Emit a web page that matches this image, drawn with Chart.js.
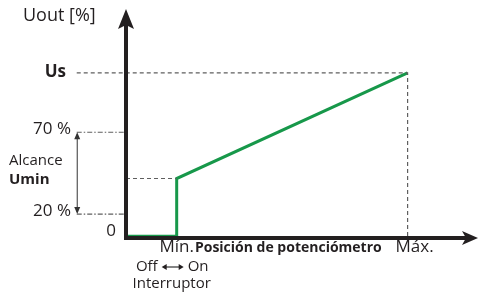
<!DOCTYPE html>
<html>
<head>
<meta charset="utf-8">
<script src="https://cdn.jsdelivr.net/npm/chart.js@4"></script>
<style>
  body { margin: 0; background: #fff; }
  canvas { display: block; }
</style>
</head>
<body>
<canvas id="curve" width="481" height="295"></canvas>
<script>
// schematic values (arbitrary units, Us = 100)
var outputX = [0, 18, 18, 100];
var outputY = [1, 1, 36, 100];
var minPos = 18, maxPos = 100;
var usLevel = 100, stepLevel = 36;
var rangeLabels = ['70 %', '20 %'];
var rangeValues = [64, 14.5];
var leftGuideX = -17.5;

var ink = '#231f20';
var guideGrey = '#5f5f5f';

function pts(xs, ys) {
    return xs.map(function(x, i) { return { x: x, y: ys[i] }; });
}

var datasets = [{
    data: pts(outputX, outputY),
    borderColor: '#17984a',
    borderWidth: 3,
    borderJoinStyle: 'miter'
}, {
    data: pts([leftGuideX, maxPos, maxPos], [usLevel, usLevel, 0]),
    borderColor: guideGrey,
    borderWidth: 1.2,
    borderDash: [4, 3]
}, {
    data: pts([0, minPos], [stepLevel, stepLevel]),
    borderColor: guideGrey,
    borderWidth: 1.2,
    borderDash: [4, 3]
}];
rangeValues.forEach(function(v) {
    datasets.push({
        data: pts([leftGuideX, 0], [v, v]),
        borderColor: guideGrey,
        borderWidth: 1.2,
        borderDash: [5, 2, 1.5, 2]
    });
});
// the green line goes last so it sits above the guides
datasets.push(datasets.shift());

var overlay = {
    id: 'overlay',
    afterDatasetsDraw: function(chart) {
        var c = chart.ctx, a = chart.chartArea;
        var xs = chart.scales.x, ys = chart.scales.y;
        var x0 = xs.getPixelForValue(0), y0 = ys.getPixelForValue(0);
        c.save();
        c.fillStyle = ink; c.strokeStyle = ink;
        // axes
        c.lineWidth = 4;
        c.beginPath();
        c.moveTo(x0, y0 + 2); c.lineTo(x0, a.top + 14);
        c.moveTo(x0 - 2, y0); c.lineTo(a.right - 10, y0);
        c.stroke();
        // arrow heads
        c.beginPath();
        c.moveTo(x0, a.top - 1); c.lineTo(x0 + 8, a.top + 19);
        c.lineTo(x0, a.top + 15); c.lineTo(x0 - 8, a.top + 19);
        c.closePath(); c.fill();
        c.beginPath();
        c.moveTo(a.right, y0); c.lineTo(a.right - 16, y0 - 7);
        c.lineTo(a.right - 12, y0); c.lineTo(a.right - 16, y0 + 7);
        c.closePath(); c.fill();

        // double arrow for the Umin range
        var ax = xs.getPixelForValue(leftGuideX) + 0.5;
        var yTop = ys.getPixelForValue(rangeValues[0]);
        var yBot = ys.getPixelForValue(rangeValues[1]);
        c.strokeStyle = '#333'; c.fillStyle = '#333';
        c.lineWidth = 1;
        c.beginPath(); c.moveTo(ax, yTop + 2); c.lineTo(ax, yBot - 2); c.stroke();
        c.beginPath();
        c.moveTo(ax, yTop); c.lineTo(ax + 3, yTop + 7); c.lineTo(ax - 3, yTop + 7); c.closePath();
        c.moveTo(ax, yBot); c.lineTo(ax + 3, yBot - 7); c.lineTo(ax - 3, yBot - 7); c.closePath();
        c.fill();

        // texts
        var f = '"Open Sans", sans-serif';
        c.fillStyle = ink;
        c.textBaseline = 'middle';
        c.textAlign = 'left';
        c.font = '18px ' + f;
        c.fillText('Uout [%]', 23, 16);
        c.textAlign = 'right';
        c.font = 'bold 17px ' + f;
        c.fillText('Us', 66, ys.getPixelForValue(usLevel) - 1);
        c.font = '17px ' + f;
        rangeLabels.forEach(function(t, i) {
            c.fillText(t, 71, ys.getPixelForValue(rangeValues[i]) - 3);
        });
        c.fillText('0', 116, y0 - 7);
        c.textAlign = 'left';
        c.font = '15px ' + f;
        c.fillText('Alcance', 9, 161);
        c.font = 'bold 15px ' + f;
        c.fillText('Umin', 9, 180);

        var mx = xs.getPixelForValue(minPos);
        c.textAlign = 'center';
        c.font = '17px ' + f;
        var mw = c.measureText('Mín.').width;
        c.fillText('Mín.', mx, y0 + 9);
        c.fillText('Máx.', xs.getPixelForValue(maxPos) + 7, y0 + 9);
        c.textAlign = 'left';
        c.font = 'bold 14px ' + f;
        c.fillText('Posición de potenciómetro', mx + mw / 2 + 1, y0 + 10);

        // Off <-> On, with a wider arrow than the font glyph
        c.font = '15px ' + f;
        var ty = y0 + 29;
        c.textAlign = 'right';
        c.fillText('Off', mx - 19, ty);
        c.textAlign = 'left';
        c.fillText('On', mx + 11, ty);
        c.lineWidth = 1.2;
        c.beginPath(); c.moveTo(mx - 12, ty); c.lineTo(mx + 4, ty); c.stroke();
        c.beginPath();
        c.moveTo(mx - 15, ty); c.lineTo(mx - 10, ty - 3); c.lineTo(mx - 10, ty + 3); c.closePath();
        c.moveTo(mx + 7, ty); c.lineTo(mx + 2, ty - 3); c.lineTo(mx + 2, ty + 3); c.closePath();
        c.fill();
        c.textAlign = 'center';
        c.fillText('Interruptor', mx - 5, y0 + 46);
        c.restore();
    }
};

new Chart(document.getElementById('curve').getContext('2d'), {
    type: 'scatter',
    data: { datasets: datasets },
    options: {
        responsive: false,
        animation: false,
        showLine: true,
        layout: { padding: { left: 126, right: 3, top: 10, bottom: 57 } },
        elements: { point: { radius: 0 }, line: { tension: 0 } },
        datasets: { scatter: { clip: false } },
        plugins: { legend: { display: false }, tooltip: { enabled: false } },
        scales: {
            x: { type: 'linear', min: 0, max: 125, display: false },
            y: { type: 'linear', min: 0, max: 138, display: false }
        }
    },
    plugins: [overlay]
});
</script>
</body>
</html>
